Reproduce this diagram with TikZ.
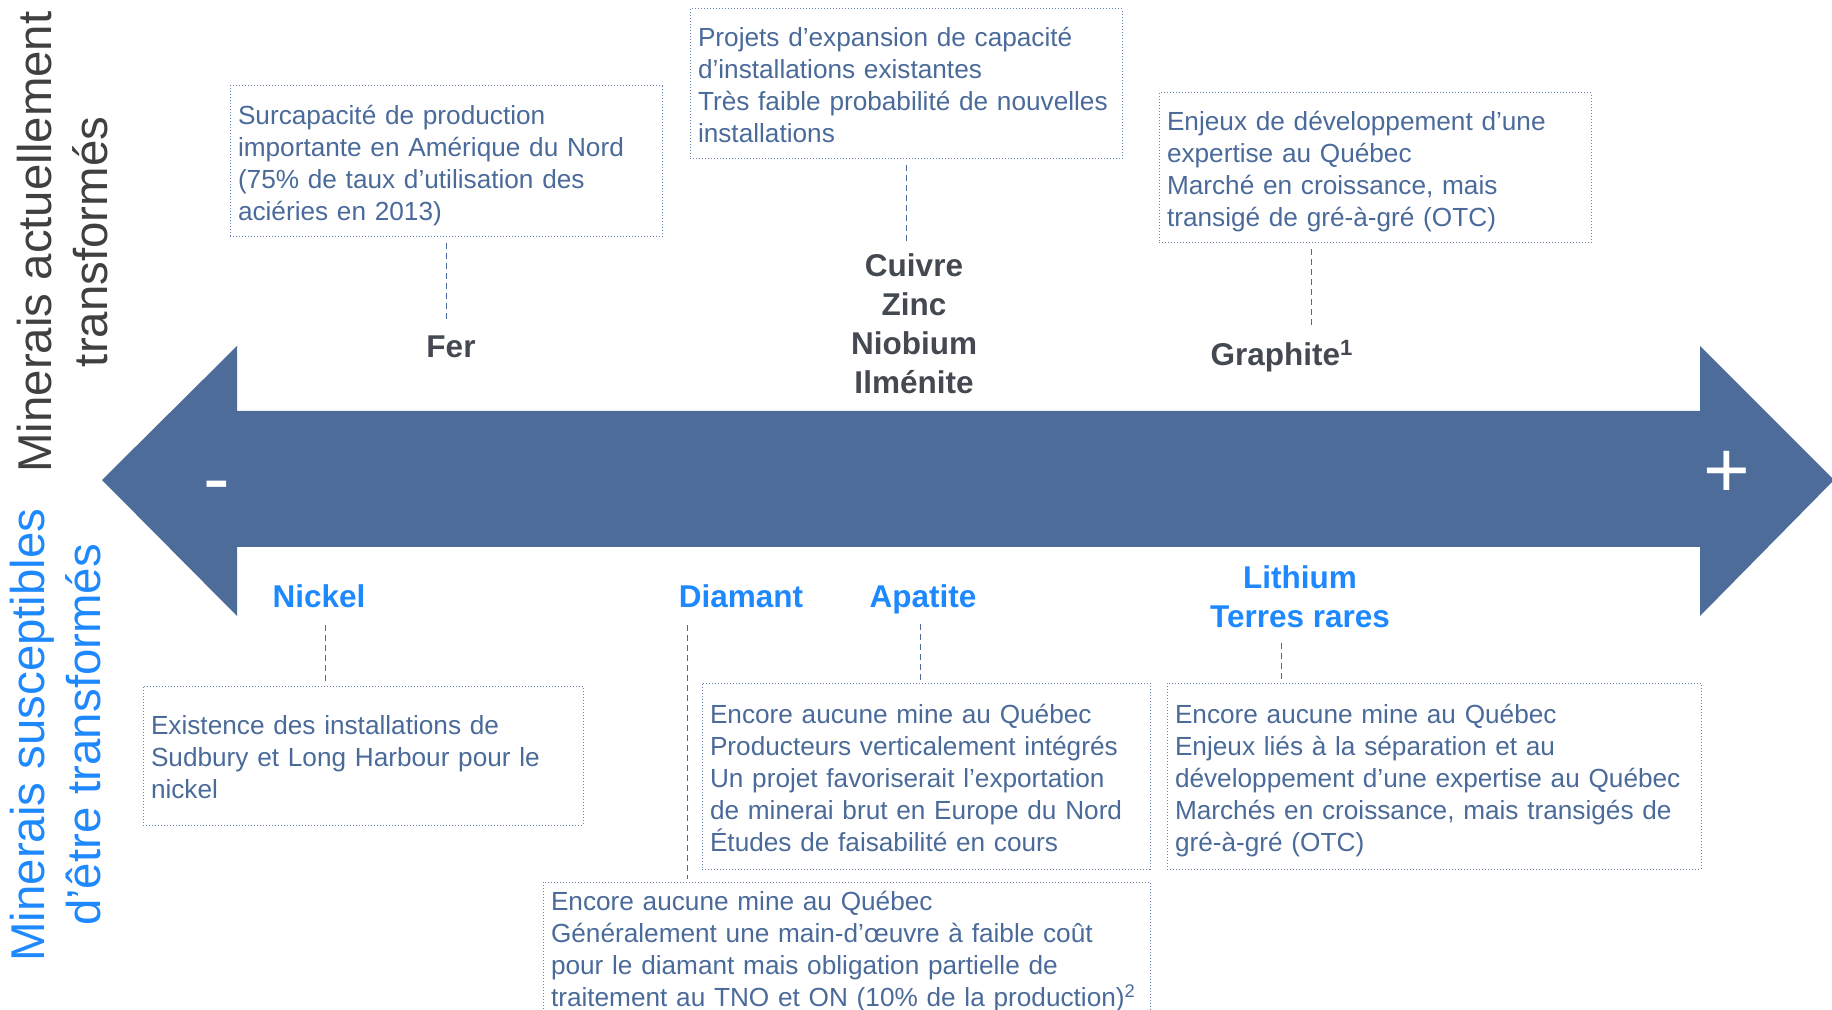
\documentclass[tikz,border=0pt]{standalone}
\usepackage{fontspec}
\setmainfont{Liberation Sans}
\usepackage{tikz}
\usetikzlibrary{positioning,calc}
\definecolor{arrowcolor}{RGB}{78,108,153}
\definecolor{notecolor}{RGB}{74,106,154}
\definecolor{nowcolor}{RGB}{68,72,80}
\definecolor{futurecolor}{RGB}{30,136,255}
\definecolor{titlegray}{RGB}{64,64,64}

\begin{document}
\begin{tikzpicture}[x=0.5pt, y=-0.5pt,
    note/.style={draw=notecolor!85, densely dotted, line width=0.5pt, text=notecolor, align=left,
      inner xsep=4pt, inner ysep=0pt, font=\fontsize{13.1pt}{16pt}\selectfont,
      execute at begin node={\rule{0pt}{14pt}}, execute at end node={\rule[-3pt]{0pt}{3pt}}},
    nowmin/.style={text=nowcolor, font=\bfseries\fontsize{15.75pt}{19.5pt}\selectfont, align=center, inner sep=0pt},
    futuremin/.style={nowmin, text=futurecolor},
    link/.style={draw=notecolor, line width=0.5pt, dash pattern=on 3pt off 2pt},
    sidetitle/.style={rotate=90, align=center, inner sep=0pt, font=\fontsize{23.7pt}{28pt}\selectfont},
    sign/.style={text=white, anchor=base, inner sep=0pt, font=\fontsize{40pt}{40pt}\selectfont}]
    \useasboundingbox (0,0) rectangle (1832,1010);

    % double arrow
    \fill[arrowcolor] (102,480) -- (237,346) -- (237,411) -- (1700,411) -- (1700,346) -- (1834,480)
        -- (1700,616) -- (1700,547) -- (237,547) -- (237,616) -- cycle;
    \node[sign] (minus) at (217,506) {-};
    \node[sign] (plus) at (1727,498) {+};

    % side titles
    \node[sidetitle, text=titlegray] (nowtitle) at (63,242) {Minerais actuellement\\transformés};
    \node[sidetitle, text=futurecolor] (futuretitle) at (56,735) {Minerais susceptibles\\d’être transformés};

    % upper side
    \node[note, text width=208pt, minimum height=75.5pt] (ferbox) at (446,161.5)
        {Surcapacité de production\\importante en Amérique du Nord\\(75\% de taux d’utilisation des\\aciéries en 2013)};
    \node[note, text width=208pt, minimum height=75pt] (projbox) at (906,84)
        {Projets d’expansion de capacité\\d’installations existantes\\Très faible probabilité de nouvelles\\installations};
    \node[note, text width=208pt, minimum height=75pt] (graphbox) at (1375,168)
        {Enjeux de développement d’une\\expertise au Québec\\Marché en croissance, mais\\transigé de gré-à-gré (OTC)};

    \node[nowmin] (fer) at (451,347) {Fer};
    \node[nowmin] (cuivre) at (914,324) {Cuivre\\Zinc\\Niobium\\Ilménite};
    \node[nowmin] (graphite) at (1282,356) {Graphite\textsuperscript{1}};

    % lower side
    \node[futuremin] (nickel) at (319,596) {Nickel};
    \node[futuremin] (diamant) at (741,596) {Diamant};
    \node[futuremin] (apatite) at (923,599.5) {Apatite};
    \node[futuremin] (lithium) at (1300,596.5) {Lithium\\Terres rares};

    \node[note, text width=212pt, minimum height=69.5pt] (nickelbox) at (363,755.5)
        {Existence des installations de\\Sudbury et Long Harbour pour le\\nickel};
    \node[note, text width=216pt, minimum height=93pt] (apatitebox) at (926,776)
        {Encore aucune mine au Québec\\Producteurs verticalement intégrés\\Un projet favoriserait l’exportation\\de minerai brut en Europe du Nord\\Études de faisabilité en cours};
    \node[note, text width=259pt, minimum height=93pt] (lithiumbox) at (1434,776)
        {Encore aucune mine au Québec\\Enjeux liés à la séparation et au\\développement d’une expertise au Québec\\Marchés en croissance, mais transigés de\\gré-à-gré (OTC)};
    \node[note, text width=295.5pt, minimum height=65pt] (diamantbox) at (846.5,947)
        {Encore aucune mine au Québec\\Généralement une main-d’œuvre à faible coût\\pour le diamant mais obligation partielle de\\\mbox{traitement au TNO et ON (10\% de la production)\textsuperscript{2}}};

    % dashed links
    \coordinate (graphx) at (1311,0);
    \coordinate (nickelx) at (325,0);
    \coordinate (diamantx) at (687,0);
    \coordinate (apatitex) at (920,0);
    \coordinate (lithiumx) at (1281,0);
    \draw[link, shorten <=3pt, shorten >=7.4pt] (ferbox.south) -- (ferbox.south |- fer.north);
    \draw[link, shorten <=3pt, shorten >=5pt] (projbox.south) -- (projbox.south |- cuivre.north);
    \draw[link, shorten <=3pt, shorten >=6.2pt] (graphbox.south -| graphx) -- (graphite.north -| graphx);
    \draw[link, shorten <=8.7pt, shorten >=1.5pt] (nickel.south -| nickelx) -- (nickelbox.north -| nickelx);
    \draw[link, shorten <=8.7pt, shorten >=1.5pt] (diamant.south -| diamantx) -- (diamantbox.north -| diamantx);
    \draw[link, shorten <=4.5pt, shorten >=1.5pt] (apatite.south -| apatitex) -- (apatitebox.north -| apatitex);
    \draw[link, shorten <=7.75pt, shorten >=1.5pt] (lithium.south -| lithiumx) -- (lithiumbox.north -| lithiumx);
\end{tikzpicture}
\end{document}
